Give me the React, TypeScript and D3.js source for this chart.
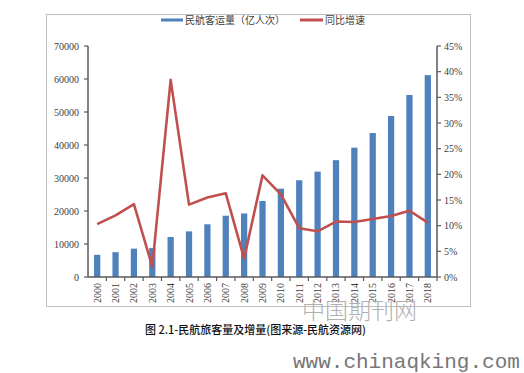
import React from "react";
import * as d3 from "d3";

const years = ["2000","2001","2002","2003","2004","2005","2006","2007","2008","2009","2010","2011","2012","2013","2014","2015","2016","2017","2018"];
const passengers = [6722,7524,8594,8759,12123,13827,15968,18576,19251,23052,26769,29317,31936,35397,39195,43618,48796,55156,61174];
const growth = [10.3,12.0,14.2,2.0,38.4,14.1,15.5,16.3,3.6,19.8,16.1,9.5,8.9,10.8,10.7,11.3,11.9,12.9,10.6];
const leftTicks = [0,10000,20000,30000,40000,50000,60000,70000];
const rightTicks = [0,5,10,15,20,25,30,35,40,45];
const seriesNames = ["民航客运量（亿人次）", "同比增速"];
const caption = "图 2.1-民航旅客量及增量(图来源-民航资源网)";

export default function App() {
  const W = 524, H = 373;
  const left = 88, right = 437, top = 46, bottom = 277;
  const x = d3.scaleBand<string>().domain(years).range([left, right]).paddingInner(0.66).paddingOuter(0.33);
  const xs = d3.scaleBand<string>().domain(years).range([left, right]);
  const yL = d3.scaleLinear().domain([0, 70000]).range([bottom, top]);
  const yR = d3.scaleLinear().domain([0, 45]).range([bottom, top]);
  const line = d3.line<number>().x((_, i) => (xs(years[i]) as number) + xs.bandwidth() / 2).y(d => yR(d));
  const serif = "'Liberation Serif', 'Times New Roman', serif";
  const cjk = "'Noto Sans CJK SC', sans-serif";
  const axisColor = "#595959";
  const blue = "#4F81BD";
  const red = "#C0504D";
  return (
    <svg width={W} height={H} style={{ position: "absolute", left: 0, top: 0, background: "#fff" }}>
      <rect x={0} y={0} width={W} height={H} fill="#fff" />
      <rect x={46.5} y={14.5} width={424} height={292} fill="none" stroke="#bfbfbf" strokeWidth={1} />
      {/* legend */}
      <line x1={161} x2={183} y1={20} y2={20} stroke={blue} strokeWidth={3} />
      <text x={185} y={23.5} fontFamily={cjk} fontSize={10} fill="#404040">{seriesNames[0]}</text>
      <line x1={300} x2={323} y1={20} y2={20} stroke={red} strokeWidth={3} />
      <text x={325} y={23.5} fontFamily={cjk} fontSize={10} fill="#404040">{seriesNames[1]}</text>
      {/* bars */}
      {passengers.map((v, i) => (
        <rect key={i} x={x(years[i])} y={yL(v)} width={x.bandwidth()} height={bottom - yL(v)} fill={blue} />
      ))}
      {/* left axis */}
      <line x1={left} x2={left} y1={top} y2={bottom} stroke={axisColor} strokeWidth={1.5} />
      {leftTicks.map(t => (
        <g key={t}>
          <line x1={left - 4} x2={left} y1={yL(t)} y2={yL(t)} stroke={axisColor} strokeWidth={1.2} />
          <text x={79} y={yL(t) + 3.5} textAnchor="end" fontFamily={serif} fontSize={10} fill="#404040">{t}</text>
        </g>
      ))}
      {/* right axis */}
      <line x1={right} x2={right} y1={top} y2={bottom} stroke={axisColor} strokeWidth={1.5} />
      {rightTicks.map(t => (
        <g key={t}>
          <line x1={right} x2={right + 4} y1={yR(t)} y2={yR(t)} stroke={axisColor} strokeWidth={1.2} />
          <text x={444} y={yR(t) + 3.5} textAnchor="start" fontFamily={serif} fontSize={10} fill="#404040">{t + "%"}</text>
        </g>
      ))}
      {/* x axis */}
      <line x1={left} x2={right} y1={bottom} y2={bottom} stroke={axisColor} strokeWidth={1.5} />
      {years.map((yr, i) => (
        <line key={"t" + yr} x1={(xs(yr) as number) + xs.bandwidth()} x2={(xs(yr) as number) + xs.bandwidth()} y1={bottom} y2={bottom + 4} stroke={axisColor} strokeWidth={1.2} />
      ))}
      {years.map(yr => {
        const cx = (xs(yr) as number) + xs.bandwidth() / 2;
        return (
          <text key={yr} transform={`translate(${cx + 3.5},${303}) rotate(-90)`} fontFamily={serif} fontSize={10} fill="#404040">{yr}</text>
        );
      })}
      {/* growth line */}
      <path d={line(growth) || ""} fill="none" stroke={red} strokeWidth={2.6} strokeLinejoin="round" />
      {/* watermark */}
      <text x={302} y={319} fontFamily={cjk} fontSize={23} fontWeight={300} fill="#b0b0b0">中国期刊网</text>
      {/* caption */}
      <text x={145} y={334} fontFamily={cjk} fontSize={11} fontWeight={500} fill="#111">{caption}</text>
      <text x={293} y={368} fontFamily="'Liberation Mono', monospace" fontSize={21} fill="#777">www.chinaqking.com</text>
    </svg>
  );
}
